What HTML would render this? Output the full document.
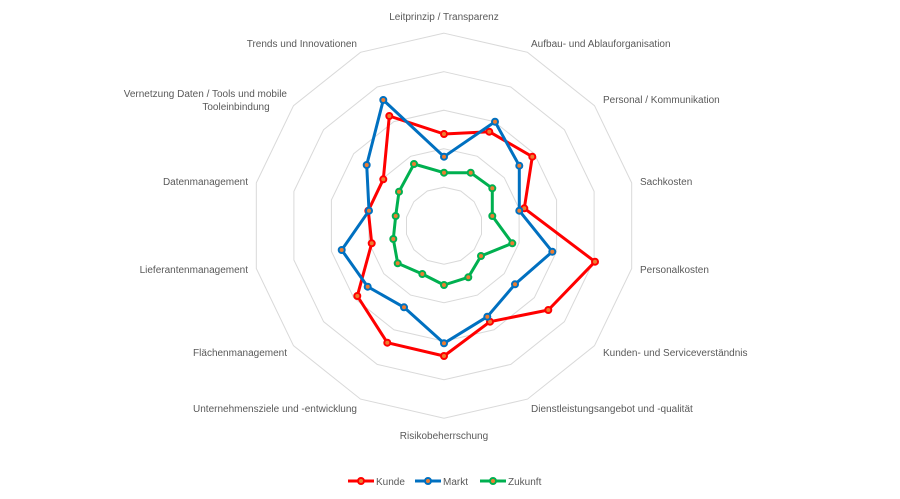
<!DOCTYPE html>
<html><head><meta charset="utf-8"><style>
body{margin:0;background:#fff}
text{font-family:"Liberation Sans",sans-serif;font-size:10px;fill:#595959}
</style></head><body>
<svg width="900" height="494" viewBox="0 0 900 494" xmlns="http://www.w3.org/2000/svg">
<g id="grid" fill="none" stroke="#d9d9d9" stroke-width="1"></g>
<g font-size="10">
<text x="444" y="20" text-anchor="middle">Leitprinzip / Transparenz</text>
<text x="531" y="47">Aufbau- und Ablauforganisation</text>
<text x="603" y="103">Personal / Kommunikation</text>
<text x="640" y="185">Sachkosten</text>
<text x="640" y="273">Personalkosten</text>
<text x="603" y="356">Kunden- und Serviceverständnis</text>
<text x="531" y="412">Dienstleistungsangebot und -qualität</text>
<text x="444" y="439" text-anchor="middle">Risikobeherrschung</text>
<text x="357" y="412" text-anchor="end">Unternehmensziele und -entwicklung</text>
<text x="287" y="356" text-anchor="end">Flächenmanagement</text>
<text x="248" y="273" text-anchor="end">Lieferantenmanagement</text>
<text x="248" y="185" text-anchor="end">Datenmanagement</text>
<text x="287" y="97" text-anchor="end">Vernetzung Daten / Tools  und mobile</text>
<text x="236" y="110" text-anchor="middle">Tooleinbindung</text>
<text x="357" y="47" text-anchor="end">Trends und Innovationen</text>
</g>
<g id="series"></g>
<g stroke-width="3">
<line x1="348" y1="481" x2="374" y2="481" stroke="#ff0000"/><circle cx="361" cy="481" r="3" fill="#ed7d31" stroke="#ff0000" stroke-width="2"/>
<line x1="415" y1="481" x2="441" y2="481" stroke="#0070c0"/><circle cx="428" cy="481" r="3" fill="#ed7d31" stroke="#0070c0" stroke-width="2"/>
<line x1="480" y1="481" x2="506" y2="481" stroke="#00b050"/><circle cx="493" cy="481" r="3" fill="#ed7d31" stroke="#00b050" stroke-width="2"/>
</g>
<text x="376" y="485">Kunde</text>
<text x="443" y="485">Markt</text>
<text x="508" y="485">Zukunft</text>
<script>
var cx=444,cy=225.7,ns="http://www.w3.org/2000/svg";
var g=document.getElementById('grid');
for(var k=1;k<=5;k++){var p=[];for(var i=0;i<14;i++){var a=i*2*Math.PI/14;p.push((cx+38.5*k*Math.sin(a)).toFixed(1)+','+(cy-38.5*k*Math.cos(a)).toFixed(1));}
var e=document.createElementNS(ns,'polygon');e.setAttribute('points',p.join(' '));g.appendChild(e);}
var S=[
['#ff0000',[[444,134],[489.3,131.7],[532.3,156.7],[524.3,208.3],[595,261.7],[548.3,310],[490,321.7],[444,356],[387.3,342.7],[357.3,296],[371.7,243.3],[368.3,210.7],[383.3,179.3],[389.3,116]]],
['#0070c0',[[444,156.7],[495,121.7],[519.3,165.7],[519.3,210.7],[552.3,251.7],[515,284.3],[487.3,316.7],[444,343.3],[404,307.3],[367.7,286.7],[341.7,250],[369,210.7],[366.7,165],[383.3,100]]],
['#00b050',[[444,172.7],[470.7,172.7],[492.3,188.3],[492.3,216],[512.3,243.3],[481,256],[468.3,277.3],[444,285],[422.3,274],[397.7,263.3],[393.3,239],[395.7,216],[399,191.7],[414,164]]]];
var sg=document.getElementById('series');
S.forEach(function(s){var e=document.createElementNS(ns,'polygon');e.setAttribute('points',s[1].map(function(q){return q.join(',')}).join(' '));
e.setAttribute('fill','none');e.setAttribute('stroke',s[0]);e.setAttribute('stroke-width','3');e.setAttribute('stroke-linejoin','round');sg.appendChild(e);
s[1].forEach(function(q){var c=document.createElementNS(ns,'circle');c.setAttribute('cx',q[0]);c.setAttribute('cy',q[1]);c.setAttribute('r','3');c.setAttribute('fill','#ed7d31');c.setAttribute('stroke',s[0]);c.setAttribute('stroke-width','2');sg.appendChild(c);});});
</script>
</svg>
</body></html>
